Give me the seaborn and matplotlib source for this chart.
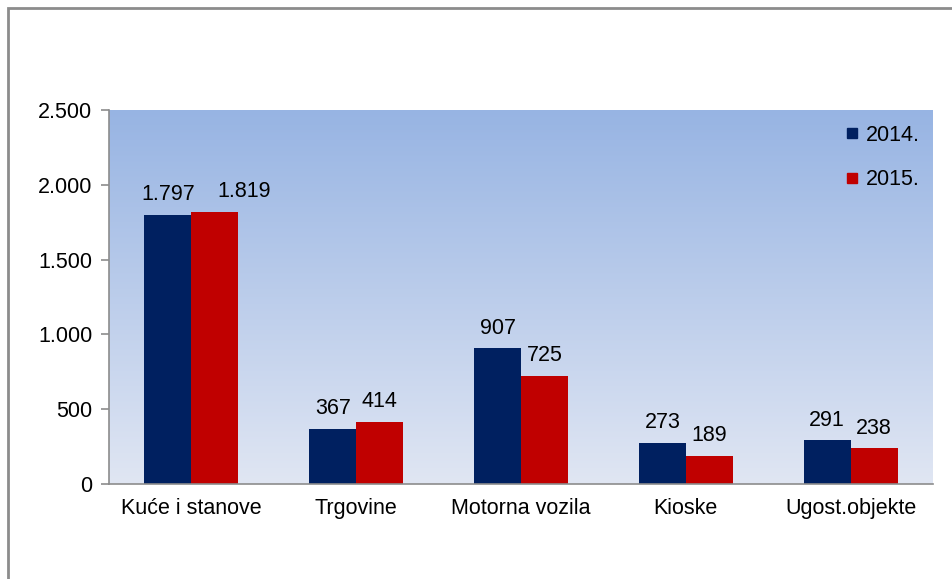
import matplotlib
matplotlib.use("Agg")
import matplotlib.pyplot as plt
import numpy as np
import pandas as pd
import seaborn as sns
from matplotlib.lines import Line2D
from matplotlib.colors import LinearSegmentedColormap

categories = ["Kuće i stanove", "Trgovine", "Motorna vozila", "Kioske", "Ugost.objekte"]
years = ["2014.", "2015."]
values_2014 = [1797, 367, 907, 273, 291]
values_2015 = [1819, 414, 725, 189, 238]
y_ticks = [0, 500, 1000, 1500, 2000, 2500]

colors = ["#002060", "#c00000"]
FS = 15.5
LABEL_PAD = 7

df = pd.DataFrame({
    "kategorija": categories * 2,
    "godina": [years[0]] * len(categories) + [years[1]] * len(categories),
    "broj": values_2014 + values_2015,
})

sns.set_style("white")
plt.rcParams["font.family"] = ["Liberation Sans", "DejaVu Sans"]
plt.rcParams["text.color"] = "black"
plt.rcParams["xtick.color"] = "black"
plt.rcParams["ytick.color"] = "black"

fig = plt.figure(figsize=(9.53, 5.79), dpi=100)
ax = fig.add_axes([109 / 953, 95 / 579, 824 / 953, 374 / 579])

# gradient background of the plot area
grad = LinearSegmentedColormap.from_list("bg", ["#e0e6f3", "#97b4e3"])
ax.imshow(np.linspace(0, 1, 256).reshape(-1, 1), cmap=grad, origin="lower",
          extent=[0, 1, 0, 1], transform=ax.transAxes, aspect="auto", zorder=0)

sns.barplot(data=df, x="kategorija", y="broj", hue="godina", palette=colors,
            width=0.57, gap=0, saturation=1, ax=ax, zorder=2, legend=False,
            linewidth=0)

label_sets = []
for cont in ax.containers:
    anns = ax.bar_label(cont, labels=[f"{v:,.0f}".replace(",", ".") for v in cont.datavalues],
                        padding=LABEL_PAD, fontsize=FS)
    label_sets.append(anns)

# in the original the 1.819 label is nudged right so it clears 1.797
label_sets[1][0].xyann = (21, LABEL_PAD)

ax.set_xlim(-0.5, len(categories) - 0.5)
ax.set_ylim(0, 2500)
ax.set_yticks(y_ticks)
ax.set_yticklabels([f"{v:,}".replace(",", ".") for v in y_ticks], fontsize=FS)
ax.set_xlabel("")
ax.set_ylabel("")
ax.tick_params(axis="x", labelsize=FS, length=0, pad=10)
ax.set_xticks(np.arange(-0.5, len(categories)), minor=True)
ax.tick_params(axis="x", which="minor", length=4, width=1.2, color="#8c8c8c", direction="out")
ax.tick_params(axis="y", length=6, width=1.2, color="#8c8c8c", direction="out", left=True, pad=6)

for s in ["top", "right"]:
    ax.spines[s].set_visible(False)
for s in ["left", "bottom"]:
    ax.spines[s].set_color("#8c8c8c")
    ax.spines[s].set_linewidth(1.2)

handles = [Line2D([], [], marker="s", linestyle="", color=c, markersize=7) for c in colors]
ax.legend(handles, years, loc="upper right", frameon=False, fontsize=FS,
          handletextpad=0.1, labelspacing=1.1, handlelength=1.0,
          bbox_to_anchor=(1.007, 1.013))

# outer chart border
fig.add_artist(plt.Rectangle((8.5 / 953, -0.1), 1.2, 1.1 - 8.5 / 579, transform=fig.transFigure,
                             fill=False, edgecolor="#8c8c8c", linewidth=2))

fig.savefig("out.png", dpi=100)
